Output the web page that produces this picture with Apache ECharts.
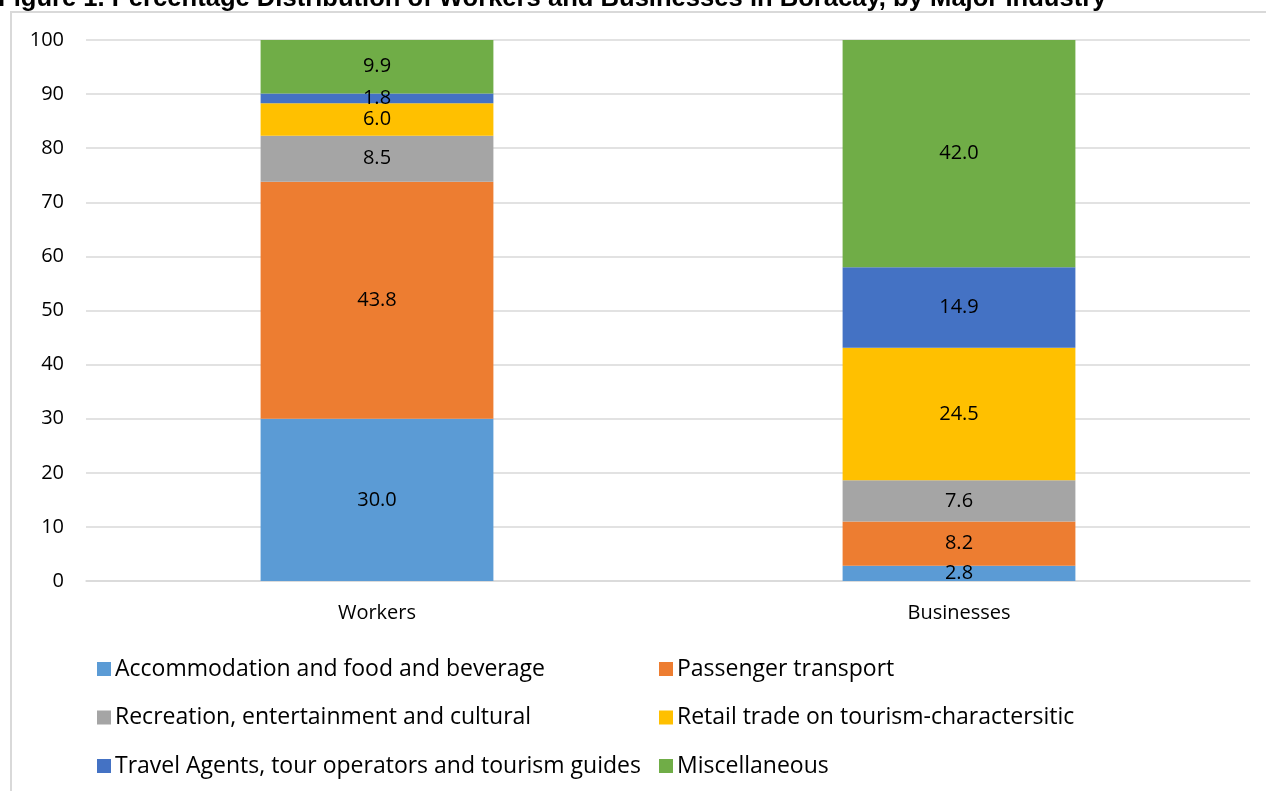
<!DOCTYPE html>
<html>
<head>
<meta charset="utf-8">
<script src="https://cdn.jsdelivr.net/npm/echarts@6/dist/echarts.min.js"></script>
<style>
   html, body { margin: 0; padding: 0; background: #fff; }
   #chart { width: 1266px; height: 791px; position: relative; }
   .frame {
      position: absolute; left: 10px; top: 11px; width: 1300px; height: 800px;
      border-left: 2px solid #d9d9d9; border-top: 2px solid #d9d9d9;
      pointer-events: none;
   }
</style>
</head>
<body>
<div id="chart"></div>
<div class="frame"></div>
<script>
const categories = ['Workers', 'Businesses']
const seriesNames = [
   'Accommodation and food and beverage',
   'Passenger transport',
   'Recreation, entertainment and cultural',
   'Retail trade on tourism-charactersitic',
   'Travel Agents, tour operators and tourism guides',
   'Miscellaneous'
]
const accommodation = [30.0, 2.8]
const transport = [43.8, 8.2]
const recreation = [8.5, 7.6]
const retail = [6.0, 24.5]
const travel = [1.8, 14.9]
const misc = [9.9, 42.0]
const yTicks = [0, 10, 20, 30, 40, 50, 60, 70, 80, 90, 100]

const colors = ['#5B9BD5', '#ED7D31', '#A5A5A5', '#FFC000', '#4472C4', '#70AD47']
const values = [accommodation, transport, recreation, retail, travel, misc]
const font = 'Open Sans'

let myChart = echarts.init(document.getElementById('chart'))

let legendBase = {
   orient: 'vertical',
   top: 652,
   itemGap: 24.5,
   itemWidth: 14,
   itemHeight: 14,
   icon: 'rect',
   textStyle: { fontFamily: font, fontSize: 23, lineHeight: 24, color: '#000', padding: [0, 0, 0, -1] }
}

let option = {
   animation: false,
   color: colors,
   title: {
      text: 'Figure 1. Percentage Distribution of Workers and Businesses in Boracay, by Major Industry',
      left: -2,
      top: -14,
      padding: 0,
      textStyle: { fontFamily: 'Liberation Sans', fontWeight: 'bold', fontSize: 25.6, color: '#000' }
   },
   legend: [
      Object.assign({}, legendBase, { left: 92, data: [seriesNames[0], seriesNames[2], seriesNames[4]] }),
      Object.assign({}, legendBase, { left: 654, data: [seriesNames[1], seriesNames[3], seriesNames[5]] })
   ],
   grid: {
      left: 86,
      right: 16,
      top: 40,
      bottom: 210
   },
   xAxis: {
      type: 'category',
      data: categories,
      axisTick: { show: false },
      axisLine: { lineStyle: { color: '#d9d9d9', width: 1.5 } },
      axisLabel: { fontFamily: font, fontSize: 20, color: '#000', margin: 22 }
   },
   yAxis: {
      type: 'value',
      min: yTicks[0],
      max: yTicks[yTicks.length - 1],
      interval: 10,
      axisLine: { show: false },
      axisTick: { show: false },
      splitLine: { lineStyle: { color: '#d9d9d9', width: 1.5 } },
      axisLabel: { fontFamily: font, fontSize: 20, color: '#000', margin: 22 }
   },
   series: seriesNames.map((name, i) => ({
      name: name,
      type: 'bar',
      stack: 'total',
      barWidth: '40%',
      data: values[i],
      itemStyle: { color: colors[i] },
      label: {
         show: true,
         position: 'inside',
         fontFamily: font,
         fontSize: 20,
         color: '#000',
         formatter: p => p.value.toFixed(1)
      }
   }))
}

myChart.setOption(option)
</script>
</body>
</html>
